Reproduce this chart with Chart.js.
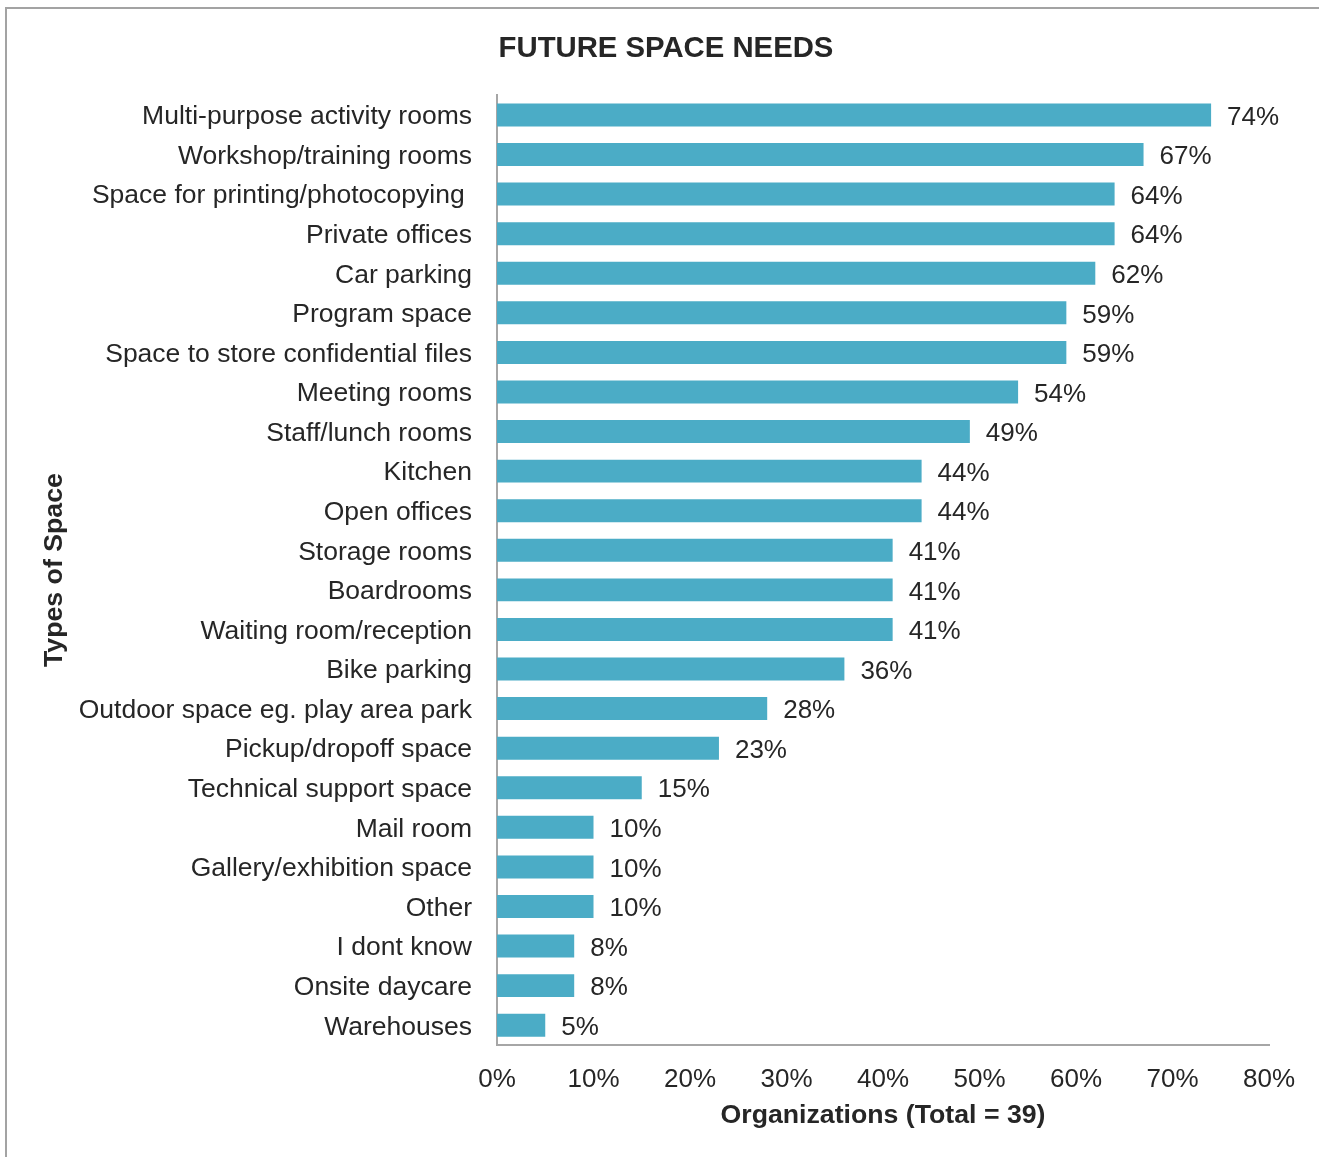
<!DOCTYPE html>
<html>
<head>
<meta charset="utf-8">
<title>Future Space Needs</title>
<script src="https://cdn.jsdelivr.net/npm/chart.js@4/dist/chart.umd.min.js"></script>
<style>
  html, body { margin: 0; padding: 0; background: #ffffff; overflow: hidden; }
  #frame {
    position: absolute; left: 5px; top: 7px; width: 1340px; height: 1180px;
    border-left: 2px solid #a3a3a3; border-top: 2px solid #a3a3a3;
  }
  #wrap { position: absolute; left: 0; top: 0; width: 1319px; height: 1157px; }
</style>
</head>
<body>
<div id="frame"></div>
<div id="wrap"><canvas id="chart" width="1319" height="1157"></canvas></div>
<script>
// Space types, most requested first
const categories = [
  'Multi-purpose activity rooms',
  'Workshop/training rooms',
  'Space for printing/photocopying ',
  'Private offices',
  'Car parking',
  'Program space',
  'Space to store confidential files',
  'Meeting rooms',
  'Staff/lunch rooms',
  'Kitchen',
  'Open offices',
  'Storage rooms',
  'Boardrooms',
  'Waiting room/reception',
  'Bike parking',
  'Outdoor space eg. play area park',
  'Pickup/dropoff space',
  'Technical support space',
  'Mail room',
  'Gallery/exhibition space',
  'Other',
  'I dont know',
  'Onsite daycare',
  'Warehouses'
];

// Share of organizations (percent) needing each space type
const shares = [74, 67, 64, 64, 62, 59, 59, 54, 49, 44, 44, 41, 41, 41, 36, 28, 23, 15, 10, 10, 10, 8, 8, 5];

// Horizontal axis ticks (percent)
const xTicks = [0, 10, 20, 30, 40, 50, 60, 70, 80];

const chartTitle = 'FUTURE SPACE NEEDS';
const xTitle = 'Organizations (Total = 39)';
const yTitle = 'Types of Space';

const TEXT = '#262626';
const AXIS = '#a6a6a6';
const BAR = '#4bacc6';
const FAMILY = "'Liberation Sans', Arial, Helvetica, sans-serif";

Chart.defaults.font.family = FAMILY;
Chart.defaults.font.size = 26;
Chart.defaults.color = TEXT;

// Writes each bar's percentage just past its end
const barValueLabels = {
  id: 'barValueLabels',
  afterDatasetsDraw(chart) {
    const ctx = chart.ctx;
    ctx.save();
    ctx.font = '26px ' + FAMILY;
    ctx.fillStyle = TEXT;
    ctx.textAlign = 'left';
    ctx.textBaseline = 'middle';
    chart.data.datasets.forEach((ds, di) => {
      const meta = chart.getDatasetMeta(di);
      meta.data.forEach((bar, i) => {
        ctx.fillText(ds.data[i] + '%', bar.x + 16, bar.y + 2.5);
      });
    });
    ctx.restore();
  }
};

new Chart(document.getElementById('chart'), {
  type: 'bar',
  data: {
    labels: categories,
    datasets: [{
      data: shares,
      backgroundColor: BAR,
      borderWidth: 0,
      categoryPercentage: 1.0,
      barPercentage: 0.58
    }]
  },
  options: {
    indexAxis: 'y',
    responsive: false,
    animation: false,
    layout: { padding: { left: 13, right: 0, top: 0, bottom: 0 } },
    plugins: {
      legend: { display: false },
      tooltip: { enabled: false },
      title: {
        display: true,
        text: chartTitle,
        color: TEXT,
        font: { size: 29.3, weight: 'bold' },
        padding: { top: 31, bottom: 29 }
      }
    },
    scales: {
      x: {
        type: 'linear',
        min: xTicks[0],
        max: xTicks[xTicks.length - 1],
        afterBuildTicks(scale) {
          scale.ticks = xTicks.map(v => ({ value: v }));
        },
        ticks: {
          padding: 19,
          color: TEXT,
          callback: v => v + '%'
        },
        grid: { display: false, drawTicks: false },
        border: { display: true, color: AXIS, width: 2 },
        title: {
          display: true,
          text: xTitle,
          color: TEXT,
          font: { size: 26.7, weight: 'bold' },
          padding: { top: 0, bottom: 25 }
        },
        afterFit(scale) {
          scale.height = 112;
          scale.paddingRight = 50;
        }
      },
      y: {
        type: 'category',
        ticks: {
          padding: 25,
          labelOffset: 2,
          color: TEXT,
          autoSkip: false,
          font: { size: 26.5 }
        },
        grid: { display: false, drawTicks: false },
        border: { display: true, color: AXIS, width: 2 },
        title: {
          display: true,
          text: yTitle,
          color: TEXT,
          font: { size: 26.7, weight: 'bold' },
          padding: { top: 26, bottom: 0 }
        },
        afterFit(scale) {
          scale.width = 484;
        }
      }
    }
  },
  plugins: [barValueLabels]
});
</script>
</body>
</html>
